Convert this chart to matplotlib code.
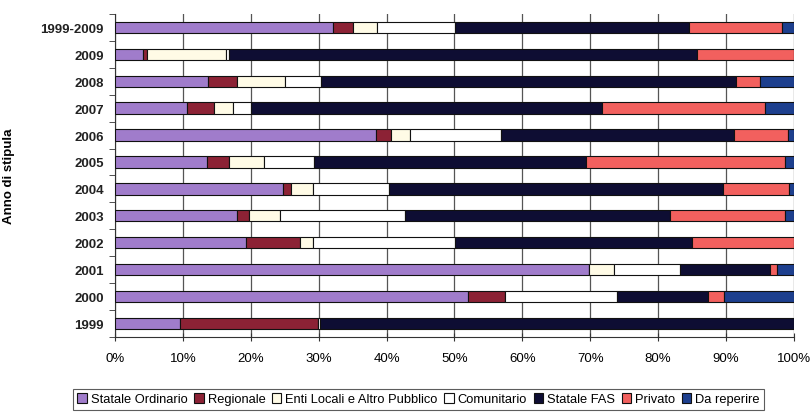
"""Recreate the 100% stacked bar chart of financing sources by year."""

import matplotlib

matplotlib.use("Agg")

import matplotlib.pyplot as plt
import numpy as np


YEARS = ["1999-2009", "2009", "2008", "2007", "2006", "2005",
         "2004", "2003", "2002", "2001", "2000", "1999"]

SERIES = ["Statale Ordinario", "Regionale", "Enti Locali e Altro Pubblico",
          "Comunitario", "Statale FAS", "Privato", "Da reperire"]

statale_ordinario = [32.1, 4.2, 13.7, 10.6, 38.4, 13.5, 24.7, 17.9, 19.3, 69.8, 52.0, 9.5]
regionale = [2.9, 0.6, 4.3, 4.0, 2.2, 3.3, 1.2, 1.8, 8.0, 0.0, 5.4, 20.4]
enti_locali = [3.6, 11.6, 7.0, 2.8, 2.9, 5.1, 3.2, 4.6, 1.9, 3.7, 0.0, 0.0]
comunitario = [11.5, 0.5, 5.4, 2.7, 13.3, 7.4, 11.2, 18.4, 20.9, 9.7, 16.6, 0.3]
statale_fas = [34.4, 69.3, 61.1, 51.7, 34.4, 40.1, 49.3, 39.0, 34.9, 13.3, 13.4, 69.8]
privato = [13.7, 14.3, 3.5, 23.9, 7.9, 29.3, 9.7, 17.0, 15.0, 1.0, 2.3, 0.0]
da_reperire = [1.8, 0.0, 5.0, 4.3, 0.9, 1.3, 0.7, 1.3, 0.0, 2.5, 10.3, 0.0]

COLORS = ["#a07ccb", "#8c2235", "#fffbe6", "#ffffff", "#0e0d33", "#f2605e", "#1d3f8e"]


def main() -> None:
    plt.rcParams["font.family"] = ["Liberation Sans", "DejaVu Sans"]
    data = np.array([statale_ordinario, regionale, enti_locali, comunitario,
                     statale_fas, privato, da_reperire], dtype=float)
    data = data / data.sum(axis=0) * 100.0

    fig = plt.figure(figsize=(8.11, 4.14), dpi=100)
    ax = fig.add_axes([0.1418, 0.1836, 0.8372, 0.7804])

    y = np.arange(len(YEARS))[::-1]
    left = np.zeros(len(YEARS))
    for name, values, color in zip(SERIES, data, COLORS):
        ax.barh(y, values, left=left, height=0.42, color=color,
                edgecolor="#111111", linewidth=0.8, label=name, zorder=3)
        left += values

    ax.set_xlim(0, 100)
    ax.set_ylim(-0.5, len(YEARS) - 0.5)
    ax.set_xticks(np.arange(0, 101, 10))
    ax.set_xticklabels([f"{v}%" for v in range(0, 101, 10)], fontsize=9.5)
    ax.tick_params(axis="x", direction="inout", length=6, pad=8, color="#333333")
    ax.set_yticks(y)
    ax.set_yticklabels(YEARS, fontsize=9.5, fontweight="bold", color="#222222")
    ax.set_yticks(np.arange(-0.5, len(YEARS), 1.0), minor=True)
    ax.tick_params(axis="y", which="major", length=0, pad=8)
    ax.tick_params(axis="y", which="minor", length=4, color="#333333")
    ax.grid(axis="x", color="#555555", linewidth=0.9, zorder=0)
    ax.set_ylabel("Anno di stipula", fontsize=9.5, fontweight="bold")
    ax.yaxis.set_label_coords(-0.147, 0.5)

    for side in ("top", "right"):
        ax.spines[side].set_visible(False)
    ax.spines["left"].set_color("#333333")
    ax.spines["bottom"].set_color("#333333")

    leg = fig.legend(loc="lower center", bbox_to_anchor=(0.516, -0.008), ncol=7,
                     fontsize=9.3, frameon=True, fancybox=False, edgecolor="#333333",
                     handlelength=0.75, handleheight=0.75, handletextpad=0.3,
                     columnspacing=0.5, borderpad=0.35)
    leg.get_frame().set_linewidth(0.8)

    fig.savefig("out.png", dpi=100)
    plt.close(fig)


if __name__ == "__main__":
    main()
